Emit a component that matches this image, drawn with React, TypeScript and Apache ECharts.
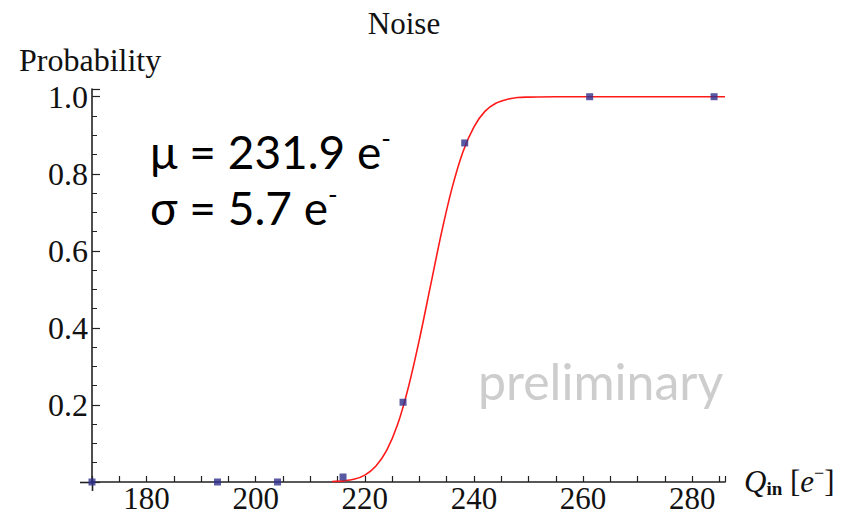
import React, { useEffect, useRef } from "react";
import * as echarts from "echarts";

// Measured data points (Q_in in electrons, probability)
const pointX = [170, 193, 204, 216, 227, 238.3, 261.2, 284];
const pointY = [0, 0, 0, 0.013, 0.207, 0.88, 1.0, 1.0];

// Fitted curve (error-function fit, mu = 231.9, sigma = 5.7)
const fitX = [214, 216, 218, 220, 222, 224, 226, 228, 230, 232, 234, 236, 238, 240, 242, 244, 246, 248, 250, 255, 286];
const fitY = [0.001, 0.003, 0.007, 0.018, 0.041, 0.082, 0.149, 0.247, 0.37, 0.507, 0.644, 0.764, 0.858, 0.922, 0.962, 0.983, 0.993, 0.998, 0.999, 1.0, 1.0];

const titleText = "Noise";
const yAxisTitle = "Probability";
const muText = "231.9";
const sigmaText = "5.7";
const watermark = "preliminary";

const SERIF = "'Liberation Serif', 'Times New Roman', serif";
const SANS = "Lato, 'Open Sans', sans-serif";

export default function App() {
  const ref = useRef<HTMLDivElement>(null);
  useEffect(() => {
    if (!ref.current) return;
    const chart = echarts.init(ref.current, null, { renderer: "svg" });
    const axisColor = "#222";
    chart.setOption({
      animation: false,
      backgroundColor: "#ffffff",
      grid: { left: 92, right: 123, top: 89, bottom: 34, containLabel: false },
      xAxis: {
        type: "value",
        min: 170,
        max: 286,
        interval: 5,
        axisLine: { show: true, lineStyle: { color: axisColor, width: 1.6 } },
        axisTick: { show: true, inside: true, length: 6, lineStyle: { color: axisColor, width: 1.2 } },
        splitLine: { show: false },
        axisLabel: {
          margin: 3,
          fontFamily: SERIF,
          fontSize: 31,
          lineHeight: 27,
          color: "#111",
          formatter: (v: number) => (v % 20 === 0 && v > 170 ? String(v) : ""),
        },
      },
      yAxis: {
        type: "value",
        min: 0,
        max: 1.02,
        interval: 0.2,
        axisLine: { show: true, onZero: false, lineStyle: { color: axisColor, width: 1.6 } },
        axisTick: { show: true, inside: true, length: 8, lineStyle: { color: axisColor, width: 1.2 } },
        minorTick: { show: true, splitNumber: 4, length: 5, lineStyle: { color: axisColor, width: 1 } },
        splitLine: { show: false },
        minorSplitLine: { show: false },
        axisLabel: {
          margin: 4,
          fontFamily: SERIF,
          fontSize: 32,
          color: "#111",
          formatter: (v: number) => {
            const k = v * 5;
            if (v <= 0 || Math.abs(k - Math.round(k)) > 1e-6) return "";
            return v.toFixed(1);
          },
        },
      },
      series: [
        {
          type: "line",
          data: fitX.map((x, i) => [x, fitY[i]]),
          smooth: 0.3,
          showSymbol: false,
          lineStyle: { color: "#ff1a1a", width: 1.6 },
          z: 2,
        },
        {
          type: "scatter",
          data: pointX.map((x, i) => [x, pointY[i]]),
          symbol: "rect",
          symbolSize: 7,
          itemStyle: { color: "#2f2f8c" },
          z: 3,
        },
      ],
      graphic: [
        { type: "line", shape: { x1: 80, y1: 482.5, x2: 92, y2: 482.5 }, style: { stroke: axisColor, lineWidth: 1.6 } },
        { type: "line", shape: { x1: 92.5, y1: 482, x2: 92.5, y2: 491 }, style: { stroke: axisColor, lineWidth: 1.6 } },
        {
          type: "text",
          x: 404,
          y: 23,
          style: { text: titleText, font: `31px ${SERIF}`, fill: "#111", align: "center", verticalAlign: "middle" },
        },
        {
          type: "text",
          x: 19,
          y: 60,
          style: { text: yAxisTitle, font: `32px ${SERIF}`, fill: "#111", align: "left", verticalAlign: "middle" },
        },
        {
          type: "text",
          x: 150,
          y: 151,
          style: {
            text: `{m|μ = ${muText} e}{s|-}`,
            fill: "#000",
            align: "left",
            verticalAlign: "middle",
            rich: {
              m: { fontFamily: SANS, fontSize: 46, fill: "#000", lineHeight: 52 },
              s: { fontFamily: SANS, fontSize: 26, fill: "#000", verticalAlign: "top", lineHeight: 52, padding: [0, 0, 16, 0] },
            },
          },
        },
        {
          type: "text",
          x: 150,
          y: 207,
          style: {
            text: `{m|σ = ${sigmaText} e}{s|-}`,
            fill: "#000",
            align: "left",
            verticalAlign: "middle",
            rich: {
              m: { fontFamily: SANS, fontSize: 46, fill: "#000", lineHeight: 52 },
              s: { fontFamily: SANS, fontSize: 26, fill: "#000", verticalAlign: "top", lineHeight: 52, padding: [0, 0, 16, 0] },
            },
          },
        },
        {
          type: "text",
          x: 478,
          y: 381,
          style: { text: watermark, font: `50px ${SANS}`, fill: "#cdcdcd", align: "left", verticalAlign: "middle" },
        },
        {
          type: "text",
          x: 744,
          y: 481,
          style: {
            text: "{q|Q}{sub|in}{t| [}{e|e}{sup|−}{t|]}",
            verticalAlign: "middle",
            align: "left",
            rich: {
              q: { fontFamily: SERIF, fontStyle: "italic", fontSize: 31, fill: "#111", lineHeight: 34 },
              sub: { fontFamily: SERIF, fontWeight: "bold", fontSize: 19, fill: "#111", verticalAlign: "bottom", lineHeight: 34, padding: [8, 0, 0, 0] },
              t: { fontFamily: SERIF, fontSize: 31, fill: "#111", lineHeight: 34 },
              e: { fontFamily: SERIF, fontStyle: "italic", fontSize: 31, fill: "#111", lineHeight: 34 },
              sup: { fontFamily: SERIF, fontSize: 18, fill: "#111", verticalAlign: "top", lineHeight: 34, padding: [0, 0, 10, 0] },
            },
          },
        },
      ],
    });
    return () => chart.dispose();
  }, []);
  return <div ref={ref} style={{ position: "absolute", left: 0, top: 0, width: 848, height: 516 }} />;
}
